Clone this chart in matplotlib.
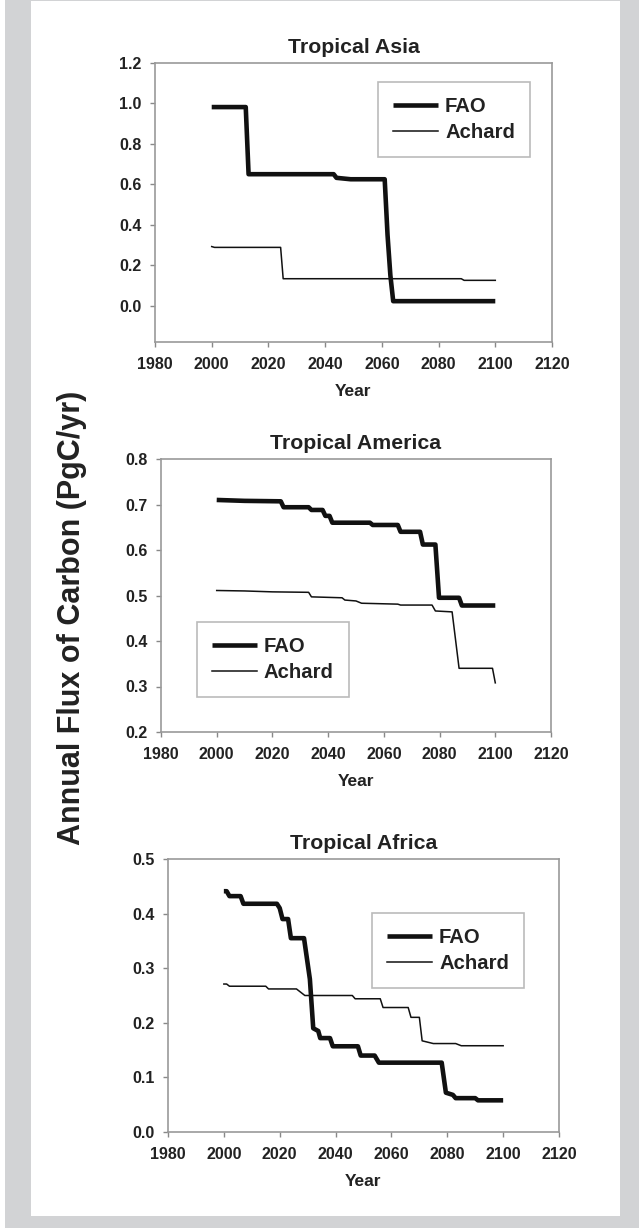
import matplotlib
matplotlib.use("Agg")
import matplotlib.pyplot as plt
from matplotlib.patches import Rectangle

plt.rcParams['font.family'] = ['Liberation Sans', 'DejaVu Sans']
plt.rcParams['font.weight'] = 'bold'

# Tropical Asia
asia_fao_x = [2000, 2012, 2013, 2043, 2044, 2049, 2061, 2062, 2063, 2064, 2100]
asia_fao_y = [0.982, 0.982, 0.65, 0.65, 0.632, 0.625, 0.625, 0.35, 0.15, 0.022, 0.022]
asia_ach_x = [2000, 2001, 2024.3, 2025.2, 2088, 2089, 2100]
asia_ach_y = [0.292, 0.288, 0.288, 0.133, 0.133, 0.125, 0.125]

# Tropical America
amer_fao_x = [2000, 2010, 2023, 2024, 2033, 2034, 2038, 2039, 2040.5, 2041.5, 2055, 2056,
              2065, 2066, 2073, 2074, 2078.5, 2079.8, 2087, 2088, 2100]
amer_fao_y = [0.710, 0.708, 0.707, 0.694, 0.694, 0.688, 0.688, 0.675, 0.675, 0.660, 0.660, 0.655,
              0.655, 0.640, 0.640, 0.612, 0.612, 0.495, 0.495, 0.478, 0.478]
amer_ach_x = [2000, 2010, 2020, 2033, 2034, 2045, 2046, 2050, 2052, 2065, 2066, 2077.3, 2078.5,
              2084.5, 2087, 2099, 2100]
amer_ach_y = [0.511, 0.510, 0.508, 0.507, 0.497, 0.495, 0.490, 0.488, 0.483, 0.481, 0.479, 0.479,
              0.466, 0.464, 0.340, 0.340, 0.308]

# Tropical Africa
afr_fao_x = [2000, 2001, 2002, 2006, 2007, 2019, 2020, 2021, 2023, 2024, 2028.7, 2030.8, 2032,
             2033.8, 2034.5, 2038, 2039, 2048, 2049, 2054, 2055.5, 2078, 2079.5, 2082, 2083,
             2090, 2091, 2100]
afr_fao_y = [0.441, 0.441, 0.432, 0.432, 0.418, 0.418, 0.410, 0.390, 0.390, 0.355, 0.355, 0.280,
             0.190, 0.185, 0.172, 0.172, 0.157, 0.157, 0.140, 0.140, 0.127, 0.127, 0.072, 0.068,
             0.062, 0.062, 0.058, 0.058]
afr_ach_x = [2000, 2001, 2002, 2015, 2016, 2026, 2029, 2046, 2047, 2056, 2057, 2066, 2067, 2070,
             2071, 2075, 2083, 2085, 2100]
afr_ach_y = [0.271, 0.271, 0.267, 0.267, 0.262, 0.262, 0.250, 0.250, 0.244, 0.244, 0.228, 0.228,
             0.210, 0.210, 0.167, 0.162, 0.162, 0.158, 0.158]

W, H = 639, 1228
fig = plt.figure(figsize=(W / 100, H / 100), dpi=100)
fig.patch.set_facecolor('#d2d3d5')
fig.patches.append(Rectangle((31 / W, (H - 1216) / H), (620 - 31) / W, (1216 - 1) / H,
                             transform=fig.transFigure, facecolor='white', edgecolor='none',
                             zorder=-5))
fig.patches.append(Rectangle((0, 0), 5 / W, 1, transform=fig.transFigure,
                             facecolor='white', edgecolor='none', zorder=-5))


def px_axes(left, right, top, bottom):
    return fig.add_axes([left / W, (H - bottom) / H, (right - left) / W, (bottom - top) / H])


panels = [
    ("Tropical Asia", (155, 552, 63, 342), asia_fao_x, asia_fao_y, asia_ach_x, asia_ach_y,
     (-0.18, 1.2), [0.0, 0.2, 0.4, 0.6, 0.8, 1.0, 1.2], (0.562, 0.932)),
    ("Tropical America", (161, 551, 459, 732), amer_fao_x, amer_fao_y, amer_ach_x, amer_ach_y,
     (0.2, 0.8), [0.2, 0.3, 0.4, 0.5, 0.6, 0.7, 0.8], (0.092, 0.403)),
    ("Tropical Africa", (168, 559, 859, 1132), afr_fao_x, afr_fao_y, afr_ach_x, afr_ach_y,
     (0.0, 0.5), [0.0, 0.1, 0.2, 0.3, 0.4, 0.5], (0.522, 0.802)),
]

for title, box, fx, fy, axx, ayy, ylim, yticks, leg_pos in panels:
    ax = px_axes(*box)
    ax.plot(fx, fy, color='#111111', lw=3.3, label='FAO', solid_capstyle='butt')
    ax.plot(axx, ayy, color='#111111', lw=1.1, label='Achard')
    ax.set_xlim(1980, 2120)
    ax.set_xticks(range(1980, 2121, 20))
    ax.set_ylim(*ylim)
    ax.set_yticks(yticks)
    ax.yaxis.set_major_formatter('{x:.1f}')
    ax.tick_params(direction='out', length=3.5, width=1, color='#888888',
                   labelsize=11.5, labelcolor='#222222')
    ax.tick_params(axis='x', pad=7)
    ax.tick_params(axis='y', pad=6)
    for s in ax.spines.values():
        s.set_color('#999999')
        s.set_linewidth(1.2)
    ax.set_title(title, fontsize=15.3, fontweight='bold', color='#222222', pad=7)
    ax.set_xlabel('Year', fontsize=12.5, fontweight='bold', color='#222222', labelpad=9)
    leg = ax.legend(loc='upper left', bbox_to_anchor=leg_pos, borderaxespad=0,
                    fontsize=14.6, frameon=True, fancybox=False, handlelength=2.2,
                    handletextpad=0.35, borderpad=0.75, labelspacing=0.34)
    leg.get_frame().set_edgecolor('#aaaaaa')
    leg.get_frame().set_linewidth(1.2)
    for t in leg.get_texts():
        t.set_color('#222222')

fig.text(72 / W, (H - 618) / H, 'Annual Flux of Carbon (PgC/yr)', rotation=90,
         ha='center', va='center', fontsize=22, fontweight='bold', color='#222222')

fig.savefig('out.png', dpi=100, facecolor=fig.get_facecolor())
